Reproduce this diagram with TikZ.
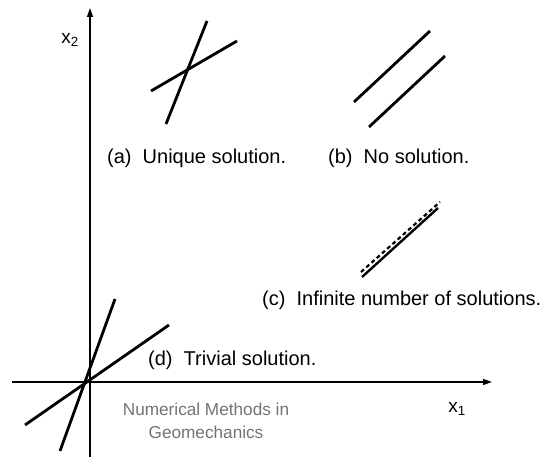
\documentclass[tikz,border=0pt]{standalone}
\usepackage{fontspec}
\setmainfont{Liberation Sans}
\usetikzlibrary{arrows.meta}
\begin{document}
\begin{tikzpicture}[x=1pt,y=-1pt,
  axis/.style={line width=1.3pt,-{Triangle[length=9pt,width=6pt]}},
  eqline/.style={line width=2.8pt},
  lbl/.style={anchor=west,inner sep=0pt,font=\fontsize{20}{24}\selectfont},
  axlbl/.style={inner sep=0pt,font=\fontsize{19}{22}\selectfont},
  wm/.style={inner sep=0pt,align=center,text=black!55,font=\fontsize{17.2}{23}\selectfont}]
\useasboundingbox (0,0) rectangle (544,457);
% axes
\coordinate (ys) at (90,457);
\coordinate (ye) at (90,8);
\coordinate (xs) at (12,382);
\coordinate (xe) at (492,382);
\draw[axis] (ys) -- (ye);
\draw[axis] (xs) -- (xe);
\node[axlbl] (x2) at (70,40) {x\textsubscript{2}};
\node[axlbl] (x1) at (457,409) {x\textsubscript{1}};
% (a)
\coordinate (a1s) at (166,124); \coordinate (a1e) at (207,21);
\coordinate (a2s) at (151,91);  \coordinate (a2e) at (237,41);
\draw[eqline] (a1s) -- (a1e);
\draw[eqline] (a2s) -- (a2e);
\node[lbl] (la) at (107,158) {(a)\ \ Unique solution.};
% (b)
\coordinate (b1s) at (354,102); \coordinate (b1e) at (430,31);
\coordinate (b2s) at (369,127); \coordinate (b2e) at (445,56);
\draw[eqline] (b1s) -- (b1e);
\draw[eqline] (b2s) -- (b2e);
\node[lbl] (lb) at (328,158) {(b)\ \ No solution.};
% (c)
\coordinate (c1s) at (362,277); \coordinate (c1e) at (438,208);
\coordinate (c2s) at (361,272); \coordinate (c2e) at (440,202);
\draw[eqline,line width=2.4pt] (c1s) -- (c1e);
\draw[line width=2.2pt,dash pattern=on 4pt off 3pt] (c2s) -- (c2e);
\node[lbl] (lc) at (262,300) {(c)\ \ Infinite number of solutions.};
% (d)
\coordinate (d1s) at (60,451); \coordinate (d1e) at (115,299);
\coordinate (d2s) at (25,425); \coordinate (d2e) at (169,325);
\draw[eqline] (d1s) -- (d1e);
\draw[eqline] (d2s) -- (d2e);
\node[lbl] (ld) at (148,360) {(d)\ \ Trivial solution.};
% watermark
\node[wm] (wmk) at (206,421) {Numerical Methods in\\Geomechanics};
\end{tikzpicture}
\end{document}
